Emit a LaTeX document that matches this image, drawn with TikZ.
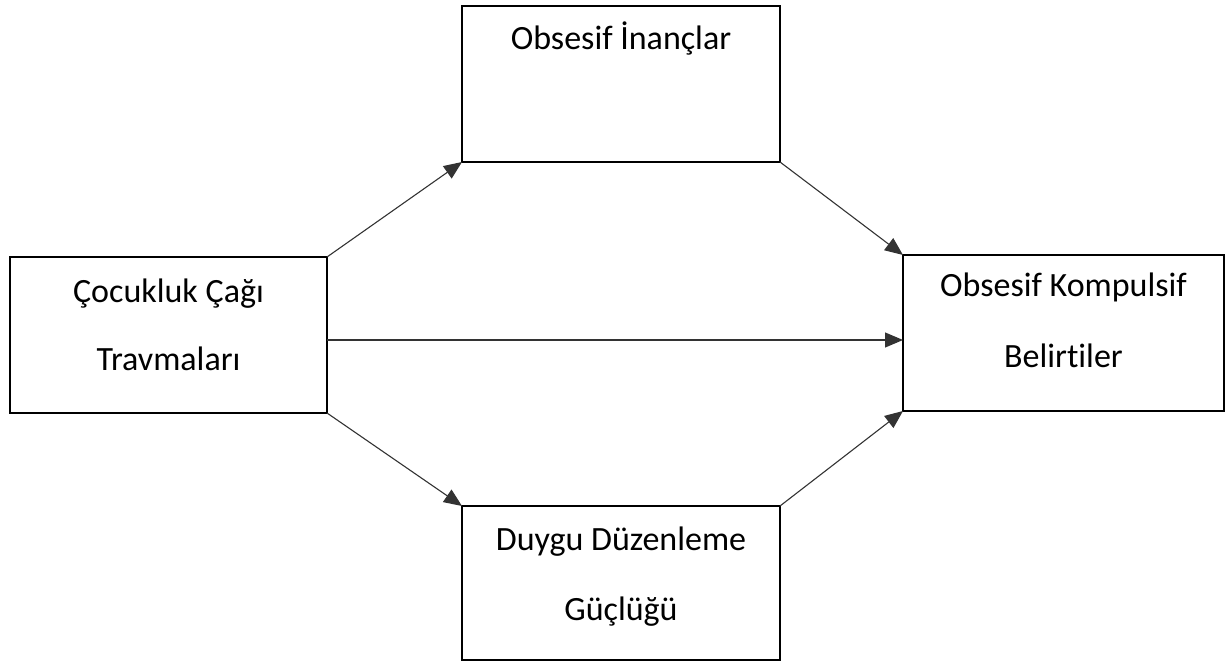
\documentclass[tikz,border=0pt]{standalone}
\usepackage{fontspec}
\setmainfont{Carlito}[Ligatures={NoCommon,NoContextual,NoRare}]
\usetikzlibrary{arrows.meta}
\begin{document}
\begin{tikzpicture}[x=1pt,y=-1pt,
  box/.style={draw=black,line width=2pt,inner sep=0pt,outer sep=0pt},
  lbl/.style={anchor=base,inner sep=0pt,font=\fontsize{34}{40}\selectfont},
  link/.style={draw=black!80,line width=1.1pt,-{Triangle[length=18pt,width=15pt]}}]
  \useasboundingbox (0,0) rectangle (1232,663);
  % boxes
  \node[box,minimum width=317pt,minimum height=156pt] (cct) at (168.5,335) {};
  \node[box,minimum width=318pt,minimum height=156pt] (oi)  at (621,84) {};
  \node[box,minimum width=318pt,minimum height=154pt] (ddg) at (621,583) {};
  \node[box,minimum width=321pt,minimum height=156pt] (okb) at (1063.5,333) {};
  % labels
  \node[lbl] (t1) at (168.5,302) {Çocukluk Çağı};
  \node[lbl] (t2) at (168.5,370) {Travmaları};
  \node[lbl] (t3) at (621,50) {Obsesif İnançlar};
  \node[lbl] (t4) at (621,550) {Duygu Düzenleme};
  \node[lbl] (t5) at (621,620) {Güçlüğü};
  \node[lbl] (t6) at (1063.5,297) {Obsesif Kompulsif};
  \node[lbl] (t7) at (1063.5,367) {Belirt\kern0pt iler};
  % connectors
  \draw[link] (cct.north east) -- (oi.south west);
  \draw[link] (oi.south east) -- (okb.north west);
  \draw[link] (cct.east |- 0,340) -- (okb.west |- 0,340);
  \draw[link] (cct.south east) -- (ddg.north west);
  \draw[link] (ddg.north east) -- (okb.south west);
\end{tikzpicture}
\end{document}
